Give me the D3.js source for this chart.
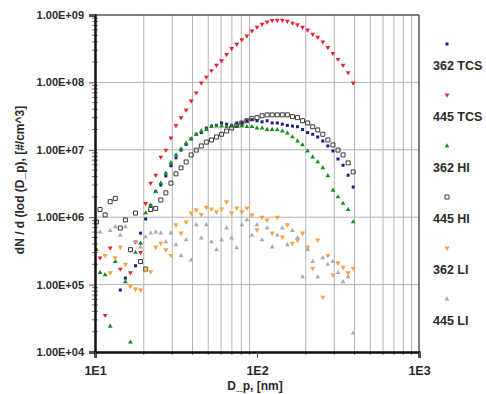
<!DOCTYPE html>
<html>
<head>
<meta charset="utf-8">
<script src="https://cdn.jsdelivr.net/npm/d3@7"></script>
<style>
  body { margin: 0; background: #fff; }
  text { font-family: Arial, "Liberation Sans", sans-serif; font-weight: bold; fill: #2a2a2a; }
</style>
</head>
<body>
<svg id="chart" width="486" height="394"></svg>
<script>
// particle diameter bins, nm
const DIAMETERS = [10.2, 10.75, 11.55, 12.41, 13.34, 14.33, 15.40, 16.55, 17.78, 19.11,
    20.54, 22.07, 23.71, 25.48, 27.38, 29.43, 31.62, 33.98, 36.52, 39.24,
    42.17, 45.32, 48.70, 52.33, 56.23, 60.43, 64.94, 69.78, 74.99, 80.58,
    86.60, 93.06, 100.0, 107.5, 115.5, 124.1, 133.4, 143.3, 154.0, 165.5,
    177.8, 191.1, 205.4, 220.7, 237.1, 254.8, 273.8, 294.3, 316.2, 339.8,
    365.2, 392.4];

// dN/dlogDp, #/cm^3 (null = no point)
const TCS_362 = [null, null, null, null, null, 8.3e4, 1.25e5, null, 1.9e5, 5.8e5,
    9.4e5, 1.5e6, 2.4e6, 3.0e6, 4.1e6, 5.8e6, 7.6e6, 9.9e6, 1.2e7, 1.45e7,
    1.7e7, 1.8e7, 2.1e7, 2.25e7, 2.3e7, 2.5e7, 2.4e7, 2.3e7, 2.5e7, 2.5e7,
    2.7e7, 2.8e7, 2.7e7, 2.6e7, 2.7e7, 2.5e7, 2.5e7, 2.4e7, 2.3e7, 2.25e7,
    2.2e7, 2.0e7, 1.8e7, 1.7e7, 1.55e7, 1.35e7, 1.14e7, 9.6e6, 7.3e6, 5.9e6,
    4.2e6, 2.8e6];

const TCS_445 = [null, 2.5e5, 3.5e4, 3.5e5, null, 1.7e5, null, 1.5e5, 4.3e5, 3.0e5,
    1.6e6, 3.2e6, 4.2e6, 7.8e6, 9.9e6, 1.5e7, 2.3e7, 3.0e7, 3.9e7, 5.3e7,
    7.0e7, 9.8e7, 1.2e8, 1.5e8, 1.8e8, 2.1e8, 2.6e8, 3.2e8, 3.7e8, 4.3e8,
    4.9e8, 5.8e8, 6.6e8, 7.3e8, 7.9e8, 8.3e8, 8.4e8, 8.4e8, 8.1e8, 7.6e8,
    7.2e8, 6.6e8, 6.0e8, 5.2e8, 4.7e8, 4.0e8, 3.3e8, 2.7e8, 2.2e8, 1.8e8,
    1.4e8, 9.8e7];

const HI_362 = [3.3e5, 1.5e5, 1.4e5, 2.4e4, 2.2e5, null, 1.1e5, 1.4e4, 3.0e5, 4.1e5,
    1.15e6, 1.5e6, 2.4e6, 3.2e6, 4.5e6, 6.4e6, 8.4e6, 1.03e7, 1.25e7, 1.45e7,
    1.7e7, 1.9e7, 2.0e7, 2.2e7, 2.25e7, 2.25e7, 2.2e7, 2.25e7, 2.25e7, 2.25e7,
    2.2e7, 2.2e7, 2.1e7, 2.1e7, 2.0e7, 2.0e7, 1.97e7, 1.9e7, 1.77e7, 1.55e7,
    1.35e7, 1.18e7, 9.6e6, 7.8e6, 6.6e6, 5.4e6, 4.1e6, 2.5e6, 2.0e6, 1.6e6,
    1.3e6, 8.5e5];

const HI_445 = [8.5e5, 1.3e6, 1.08e6, 1.7e6, 1.9e6, 6.9e5, 9.1e5, 3.3e5, 1.15e6, 2.2e5,
    1.7e5, 1.3e6, 1.35e6, 1.8e6, 2.3e6, 3.2e6, 4.4e6, 5.4e6, 6.6e6, 8.4e6,
    9.9e6, 1.14e7, 1.3e7, 1.4e7, 1.55e7, 1.7e7, 1.9e7, 2.1e7, 2.3e7, 2.5e7,
    2.7e7, 2.9e7, 3.0e7, 3.2e7, 3.3e7, 3.3e7, 3.3e7, 3.3e7, 3.3e7, 3.1e7,
    3.0e7, 2.7e7, 2.5e7, 2.2e7, 1.97e7, 1.7e7, 1.4e7, 1.18e7, 9.9e6, 8.4e6,
    6.4e6, 4.7e6];

const LI_362 = [null, null, 2.7e5, 1.5e5, 2.5e5, 3.6e5, 2.0e5, 9.5e4, 8.6e4, 8.3e4,
    1.65e5, 1.55e5, 3.6e5, 4.1e5, 3.3e5, 2.7e5, 7.7e5, 5.8e5, 8.5e5, 1.15e6,
    1.28e6, 1.1e6, 1.4e6, 1.32e6, 1.2e6, 1.32e6, 1.7e6, 1.15e6, 1.37e6, 1.2e6,
    1.37e6, 1.08e6, 6.5e5, 1.0e6, 9.1e5, 5.8e5, 1.0e6, 5.1e5, 7.7e5, 4.1e5,
    4.6e5, 5.8e5, 3.6e5, 1.75e5, 4.6e5, 6.5e4, 2.7e5, 1.4e5, 2.1e5, 1.8e5,
    1.5e5, 1.75e5];

const LI_445 = [null, 6.0e5, null, 6.3e5, 7.2e5, 5.4e5, 7.2e5, null, 4.3e5, 3.6e5,
    5.1e5, 5.8e5, 6.0e5, 5.8e5, 4.3e5, 5.8e5, 3.9e5, 2.7e5, 4.6e5, 2.3e5,
    7.7e5, 4.9e5, 7.7e5, 4.3e5, 3.3e5, 4.6e5, 6.9e5, 4.9e5, 3.5e5, 7.7e5,
    9.1e5, 5.4e5, 7.7e5, 4.6e5, 6.9e5, 3.6e5, 5.4e5, 6.9e5, 3.9e5, 6.3e5,
    4.9e5, 1.3e5, 3.3e5, 2.2e5, 1.3e5, 2.5e5, 2.0e5, 2.2e5, 1.5e5, 1.1e5,
    1.3e5, 1.9e4];

const SERIES_NAMES = ["362 TCS", "445 TCS", "362 HI", "445 HI", "362 LI", "445 LI"];
const X_MAJOR = [10, 100, 1000];
const X_GRID = [20, 30, 40, 50, 60, 70, 80, 90, 200, 300, 400, 500, 600, 700, 800, 900];
const Y_MAJOR = [1e4, 1e5, 1e6, 1e7, 1e8, 1e9];

const W = 486, H = 394;
const margin = { top: 15, right: 67, bottom: 42, left: 95 };
const width = W - margin.left - margin.right;
const height = H - margin.top - margin.bottom;

const x = d3.scaleLog().domain([10, 1000]).range([0, width]);
const y = d3.scaleLog().domain([1e4, 1e9]).range([height, 0]);

const styles = [
    { values: TCS_362, shape: d3.symbolSquare, size: 9, rot: 0, fill: "#1c1c86", stroke: "none" },
    { values: TCS_445, shape: d3.symbolTriangle, size: 10, rot: 180, fill: "#e8222c", stroke: "none" },
    { values: HI_362, shape: d3.symbolTriangle, size: 10, rot: 0, fill: "#1e8a22", stroke: "none" },
    { values: HI_445, shape: d3.symbolSquare, size: 16, rot: 0, fill: "none", stroke: "#3a3a3a" },
    { values: LI_362, shape: d3.symbolTriangle, size: 12, rot: 180, fill: "#f6a445", stroke: "none" },
    { values: LI_445, shape: d3.symbolTriangle, size: 10, rot: 0, fill: "#a9a9b2", stroke: "none" },
];

const svg = d3.select("#chart");
const g = svg.append("g").attr("transform", `translate(${margin.left},${margin.top})`);

// grid
g.selectAll(".vgrid").data(X_GRID).enter().append("line")
    .attr("x1", d => x(d)).attr("x2", d => x(d))
    .attr("y1", 0).attr("y2", height)
    .attr("stroke", "#b4b4b4").attr("stroke-width", 1);
g.selectAll(".hgrid").data(Y_MAJOR.slice(1, -1)).enter().append("line")
    .attr("x1", 0).attr("x2", width)
    .attr("y1", d => y(d)).attr("y2", d => y(d))
    .attr("stroke", "#b4b4b4").attr("stroke-width", 1);

// frame: top and right
g.append("line").attr("x1", 0).attr("x2", width).attr("y1", 0).attr("y2", 0)
    .attr("stroke", "#555").attr("stroke-width", 1.5);
g.append("line").attr("x1", width).attr("x2", width).attr("y1", 0).attr("y2", height)
    .attr("stroke", "#555").attr("stroke-width", 1.5);

// points
styles.forEach(s => {
    const pts = DIAMETERS.map((d, i) => [d, s.values[i]]).filter(p => p[1] != null);
    g.append("g").selectAll("path").data(pts).enter().append("path")
        .attr("d", d3.symbol().type(s.shape).size(s.size))
        .attr("transform", p => `translate(${x(p[0])},${y(p[1])}) rotate(${s.rot})`)
        .attr("fill", s.fill)
        .attr("stroke", s.stroke)
        .attr("stroke-width", s.stroke === "none" ? 0 : 1);
});

// minor ticks (log 2..9 of each decade)
const yMinor = [];
Y_MAJOR.slice(0, -1).forEach(v => { for (let m = 2; m < 10; m++) yMinor.push(v * m); });
g.selectAll(".ymin").data(yMinor).enter().append("line")
    .attr("x1", -3).attr("x2", 3)
    .attr("y1", d => y(d)).attr("y2", d => y(d))
    .attr("stroke", "#777").attr("stroke-width", 1);
const xMinor = [];
X_MAJOR.slice(0, -1).forEach(v => { for (let m = 2; m < 10; m++) xMinor.push(v * m); });
g.selectAll(".xmin").data(xMinor).enter().append("line")
    .attr("x1", d => x(d)).attr("x2", d => x(d))
    .attr("y1", height).attr("y2", height + 3)
    .attr("stroke", "#777").attr("stroke-width", 1);

// axes
const yAxis = d3.axisLeft(y).tickValues(Y_MAJOR).tickSize(6).tickPadding(5)
    .tickFormat(d => "1.00E+" + String(Math.round(Math.log10(d))).padStart(2, "0"));
const ya = g.append("g").call(yAxis);
ya.select(".domain").attr("stroke", "#111").attr("stroke-width", 2.5);
ya.selectAll(".tick line").attr("stroke", "#555");
ya.selectAll("text").attr("font-size", 11).attr("fill", "#2a2a2a").attr("font-family", null);

const xAxis = d3.axisBottom(x).tickValues(X_MAJOR).tickSize(6).tickPadding(8)
    .tickFormat(d => "1E" + Math.round(Math.log10(d)));
const xa = g.append("g").attr("transform", `translate(0,${height})`).call(xAxis);
xa.select(".domain").attr("stroke", "#111").attr("stroke-width", 2.5);
xa.selectAll(".tick line").attr("stroke", "#555");
xa.selectAll("text").attr("font-size", 12.5).attr("fill", "#2a2a2a").attr("font-family", null);

// axis titles
svg.append("text").attr("x", 255).attr("y", 390).attr("text-anchor", "middle")
    .attr("font-size", 12).text("D_p, [nm]");
svg.append("text").attr("transform", "translate(24,180) rotate(-90)").attr("text-anchor", "middle")
    .attr("font-size", 12).text("dN / d (lod (D_p), [#/cm^3]");

// legend
const legend = svg.append("g");
SERIES_NAMES.forEach((name, i) => {
    const s = styles[i];
    const ly = 44 + i * 51;
    legend.append("path")
        .attr("d", d3.symbol().type(s.shape).size(s.size))
        .attr("transform", `translate(447,${ly}) rotate(${s.rot})`)
        .attr("fill", s.fill).attr("stroke", s.stroke)
        .attr("stroke-width", s.stroke === "none" ? 0 : 1);
    legend.append("text").attr("x", 433).attr("y", ly + 26)
        .attr("font-size", 12.5).text(name);
});
</script>
</body>
</html>
